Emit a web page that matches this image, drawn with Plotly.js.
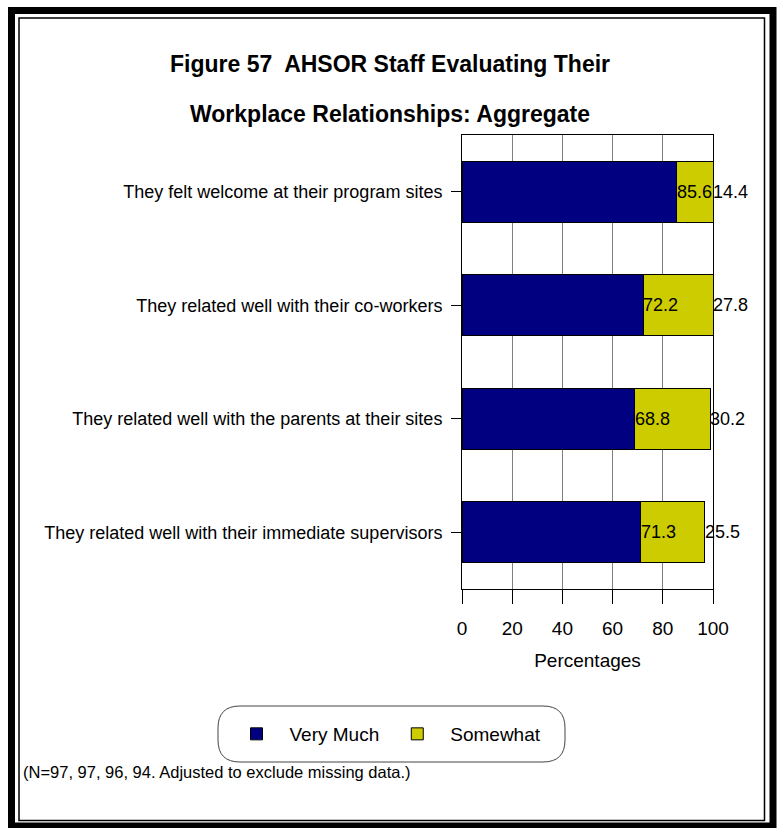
<!DOCTYPE html>
<html>
<head>
<meta charset="utf-8">
<script src="https://cdn.plot.ly/plotly-3.0.1.min.js"></script>
<style>html,body{margin:0;padding:0;background:#fff;}#chart{width:779px;height:828px;}</style>
</head>
<body>
<div id="chart"></div>
<script>
const categories = [
  "They felt welcome at their program sites",
  "They related well with their co-workers",
  "They related well with the parents at their sites",
  "They related well with their immediate supervisors"
];
const veryMuch = [85.6, 72.2, 68.8, 71.3];
const somewhat = [14.4, 27.8, 30.2, 25.5];
const seriesNames = ["Very Much", "Somewhat"];
const xTicks = [0, 20, 40, 60, 80, 100];
const titleLine1 = "Figure 57  AHSOR Staff Evaluating Their";
const titleLine2 = "Workplace Relationships: Aggregate";
const xTitle = "Percentages";
const footnote = "(N=97, 97, 96, 94. Adjusted to exclude missing data.)";

const W = 779, H = 828;
const L = 462, R = 713, T = 135, B = 589;
const px = x => (x - L) / (R - L);
const py = y => (B - y) / (B - T);
const FONT = '"Liberation Sans Narrow", "Arial Narrow", "Liberation Sans", Arial, sans-serif';

const traces = [
  {type: 'bar', orientation: 'h', name: seriesNames[0], y: categories, x: veryMuch,
   marker: {color: '#000080', line: {color: '#000000', width: 1}}, hoverinfo: 'x+name'},
  {type: 'bar', orientation: 'h', name: seriesNames[1], y: categories, x: somewhat,
   marker: {color: '#CCCC00', line: {color: '#000000', width: 1}}, hoverinfo: 'x+name'}
];

const annotations = [];
categories.forEach((c, i) => {
  annotations.push({x: veryMuch[i], y: c, xref: 'x', yref: 'y', text: veryMuch[i].toFixed(1),
    showarrow: false, xanchor: 'left', yanchor: 'middle', xshift: -2, font: {size: 18, color: '#000'}});
  annotations.push({x: veryMuch[i] + somewhat[i], y: c, xref: 'x', yref: 'y', text: somewhat[i].toFixed(1),
    showarrow: false, xanchor: 'left', yanchor: 'middle', xshift: -2, font: {size: 18, color: '#000'}});
});
annotations.push({xref: 'paper', yref: 'paper', x: px(390), y: py(114), text: titleLine2,
  showarrow: false, xanchor: 'center', yanchor: 'middle', font: {size: 23, color: '#000', family: FONT, weight: 'bold'}});
annotations.push({xref: 'paper', yref: 'paper', x: px(21), y: py(772), text: footnote,
  showarrow: false, xanchor: 'left', yanchor: 'middle', font: {size: 16.5, color: '#000'}});

function rectPath(x0, y0, x1, y1) {
  return `M${px(x0)},${py(y0)} L${px(x1)},${py(y0)} L${px(x1)},${py(y1)} L${px(x0)},${py(y1)} Z`;
}
function roundPath(x0, y0, x1, y1, r) {
  const rx = r / (R - L), ry = r / (B - T);
  const a = px(x0), b = px(x1), t = py(y0), u = py(y1);
  return `M${a + rx},${t} L${b - rx},${t} Q${b},${t} ${b},${t - ry} L${b},${u + ry} Q${b},${u} ${b - rx},${u} ` +
         `L${a + rx},${u} Q${a},${u} ${a},${u + ry} L${a},${t - ry} Q${a},${t} ${a + rx},${t} Z`;
}

const shapes = [
  {type: 'path', xref: 'paper', yref: 'paper', path: rectPath(11.5, 10.5, 773, 826), line: {color: '#000', width: 7}},
  {type: 'path', xref: 'paper', yref: 'paper', path: rectPath(19, 18, 764.5, 820.5), line: {color: '#000', width: 1.5}},
  {type: 'path', xref: 'paper', yref: 'paper', path: roundPath(218, 706, 565, 762, 22), line: {color: '#444', width: 1}}
];

const layout = {
  width: W, height: H,
  margin: {l: L, r: W - R, t: T, b: H - B, pad: 0},
  paper_bgcolor: '#fff', plot_bgcolor: '#fff',
  font: {family: FONT, size: 18, color: '#000'},
  barmode: 'stack', bargap: 0.46,
  title: {text: titleLine1, font: {size: 23, family: FONT, weight: 'bold', color: '#000'},
          x: 390 / W, xref: 'container', xanchor: 'center', y: 1 - 64 / H, yref: 'container', yanchor: 'middle'},
  xaxis: {range: [0, 100], tickvals: xTicks, ticktext: xTicks.map(String), showgrid: true, gridcolor: '#808080', gridwidth: 1,
          zeroline: false, showline: true, linecolor: '#000', linewidth: 1, mirror: true,
          ticks: 'outside', ticklen: 14, tickcolor: '#000', tickfont: {size: 19}, ticklabelstandoff: 8,
          title: {text: xTitle, font: {size: 19}, standoff: 15}, fixedrange: true},
  yaxis: {autorange: 'reversed', showgrid: false, showline: true, linecolor: '#000', linewidth: 1, mirror: true,
          ticks: 'outside', ticklen: 10, tickcolor: '#000', tickfont: {size: 18}, ticklabelstandoff: 5, fixedrange: true},
  showlegend: true,
  legend: {orientation: 'h', x: px(385), y: py(734), xanchor: 'center', yanchor: 'middle',
           font: {size: 19}, bgcolor: 'rgba(0,0,0,0)', borderwidth: 0, itemwidth: 56, traceorder: 'normal'},
  annotations: annotations,
  shapes: shapes
};

Plotly.newPlot('chart', traces, layout, {displayModeBar: false, staticPlot: true});
</script>
</body>
</html>
